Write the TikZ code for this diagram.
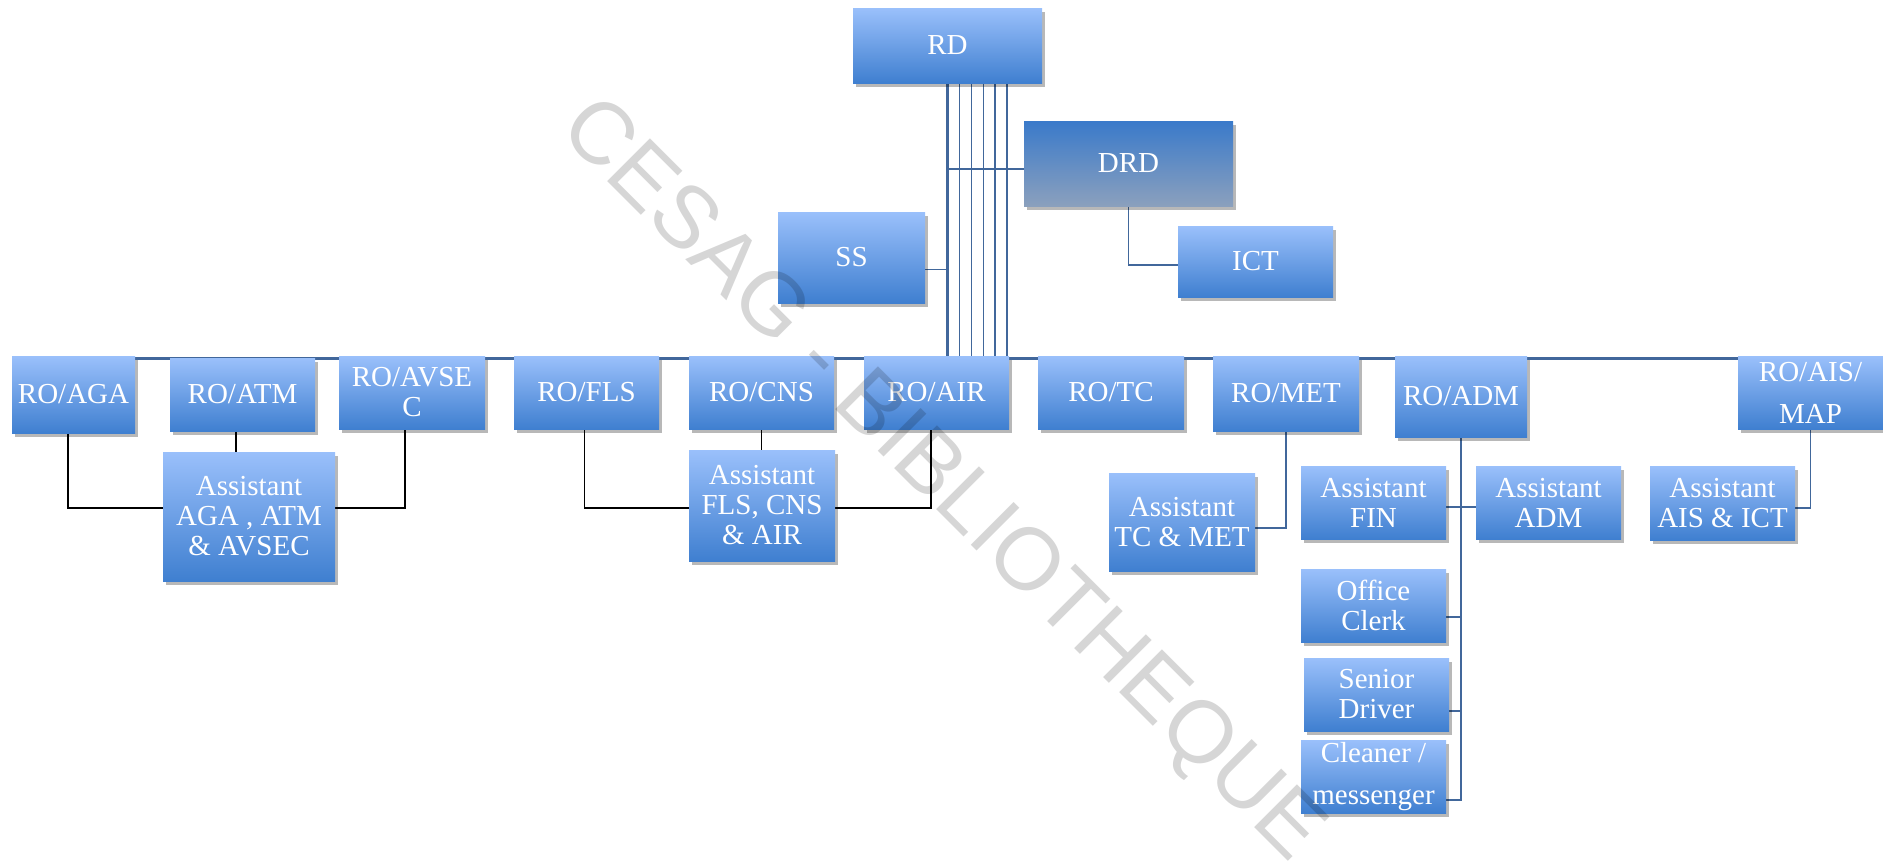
\documentclass[tikz,border=0pt]{standalone}
\usepackage{fontspec}
\setmainfont{Liberation Serif}
\newfontfamily\wmfont{Liberation Sans}
\usetikzlibrary{shadows,backgrounds}
\definecolor{boxtop}{HTML}{9AC0FB}
\definecolor{boxbot}{HTML}{3F7FD0}
\definecolor{drdtop}{HTML}{3A7ACA}
\definecolor{drdbot}{HTML}{8BA0BD}
\definecolor{linkblue}{HTML}{41679B}
\tikzset{
  orgbox/.style={top color=boxtop, bottom color=boxbot, draw=none, text=white,
    align=center, inner sep=0pt,
    font=\fontsize{29bp}{30bp}\selectfont,
    drop shadow={shadow xshift=3bp, shadow yshift=-4bp, fill=black, opacity=0.28}},
  drdbox/.style={top color=drdtop, bottom color=drdbot},
  widelead/.style={font=\fontsize{29bp}{42bp}\selectfont},
  link/.style={draw=linkblue, line width=1.6bp},
  thicklink/.style={draw=linkblue, line width=2.6bp},
  mainline/.style={draw=linkblue, line width=3bp},
  blackline/.style={draw=black, line width=1.8bp},
  watermark/.style={text=black, opacity=0.16, rotate=-45, inner sep=0pt,
    font=\wmfont\fontsize{88bp}{88bp}\selectfont}
}
\newcommand\placebox[7][]{%
  \node[orgbox,#1,minimum width={(#5-#3)*1bp},minimum height={(#6-#4)*1bp}]
    (#2) at ({(#3+#5)/2},{(#4+#6)/2}) {#7};}
\begin{document}
\begin{tikzpicture}[x=1bp,y=-1bp]
\useasboundingbox (0,0) rectangle (1883,862);
% boxes
\placebox{RD}{853}{8}{1042}{83}{RD}
\placebox[drdbox]{DRD}{1024}{121}{1233}{206}{DRD}
\placebox{SS}{778}{212}{925}{303}{SS}
\placebox{ICT}{1178}{226}{1333}{297}{ICT}
\placebox{ROAGA}{12}{356}{135}{433}{RO/AGA}
\placebox{ROATM}{170}{358}{315}{431}{RO/ATM}
\placebox{ROAVSEC}{339}{356}{485}{429}{RO/AVSE\\C}
\placebox{ROFLS}{514}{356}{659}{429}{RO/FLS}
\placebox{ROCNS}{689}{356}{834}{429}{RO/CNS}
\placebox{ROAIR}{864}{356}{1009}{429}{RO/AIR}
\placebox{ROTC}{1038}{356}{1184}{429}{RO/TC}
\placebox{ROMET}{1213}{356}{1359}{431}{RO/MET}
\placebox{ROADM}{1395}{356}{1527}{437}{RO/ADM}
\placebox[widelead]{ROAIS}{1738}{356}{1883}{429}{RO/AIS/\\MAP}
\placebox{AsAGA}{163}{452}{335}{581}{Assistant\\AGA , ATM\\\& AVSEC}
\placebox{AsFLS}{689}{450}{835}{561}{Assistant\\FLS, CNS\\\& AIR}
\placebox{AsTC}{1109}{473}{1255}{571}{Assistant\\TC \& MET}
\placebox{AsFIN}{1301}{466}{1446}{539}{Assistant\\FIN}
\placebox{AsADM}{1476}{466}{1621}{539}{Assistant\\ADM}
\placebox{AsAIS}{1650}{466}{1795}{540}{Assistant\\AIS \& ICT}
\placebox{Office}{1301}{569}{1446}{642}{Office\\Clerk}
\placebox{Senior}{1304}{658}{1449}{731}{Senior\\Driver}
\placebox[widelead]{Cleaner}{1301}{740}{1446}{813}{Cleaner /\\messenger}
% connectors
\begin{scope}[on background layer]
  \draw[mainline] ([yshift=-2.5bp]ROAGA.north east) -- ([yshift=-2.5bp]ROAIS.north west);
  \draw[thicklink] (RD.south) -- (RD.south |- ROAIR.north);
  \foreach \dd in {12,24,36,47.5,59.5}
    \draw[link] ([xshift=\dd bp]RD.south) -- ([xshift=\dd bp]RD.south |- ROAIR.north);
  \draw[link] ([yshift=-12bp]SS.east) -- ([yshift=-12bp]SS.east -| RD.south);
  \draw[link] ([yshift=-5.5bp]DRD.west) -- ([yshift=-5.5bp]DRD.west -| RD.south);
  \draw[link] (DRD.south) |- ([yshift=-3.5bp]ICT.west);
  % black links
  \draw[blackline] ([xshift=-5.5bp]ROAGA.south) |- ([yshift=8.5bp]AsAGA.west);
  \draw[blackline] ([xshift=-6.5bp]ROATM.south) -- ([xshift=-6.5bp]ROATM.south |- AsAGA.north);
  \draw[blackline] ([xshift=-7bp]ROAVSEC.south) |- ([yshift=8.5bp]AsAGA.east);
  \draw[blackline] ([xshift=-2bp]ROFLS.south) |- ([yshift=-2.5bp]AsFLS.west);
  \draw[blackline] (ROCNS.south) -- (ROCNS.south |- AsFLS.north);
  \draw[blackline] ([xshift=-5.5bp]ROAIR.south) |- ([yshift=-2.5bp]AsFLS.east);
  % blue links on the right
  \draw[link] (ROMET.south) |- ([yshift=-6bp]AsTC.east);
  \draw[link] (ROADM.south) |- ([yshift=-23.5bp]Cleaner.east);
  \draw[link] ([yshift=-4.5bp]AsFIN.east) -- ([yshift=-4.5bp]AsADM.west);
  \draw[link] ([yshift=-11.5bp]Office.east) -- ([yshift=-11.5bp]Office.east -| ROADM.south);
  \draw[link] ([yshift=-16.5bp]Senior.east) -- ([yshift=-16.5bp]Senior.east -| ROADM.south);
  \draw[link] (ROAIS.south) |- ([yshift=-5bp]AsAIS.east);
\end{scope}
% watermark
\node[watermark] (wm) at (940,482) {CESAG - BIBLIOTHEQUE};
\end{tikzpicture}
\end{document}
